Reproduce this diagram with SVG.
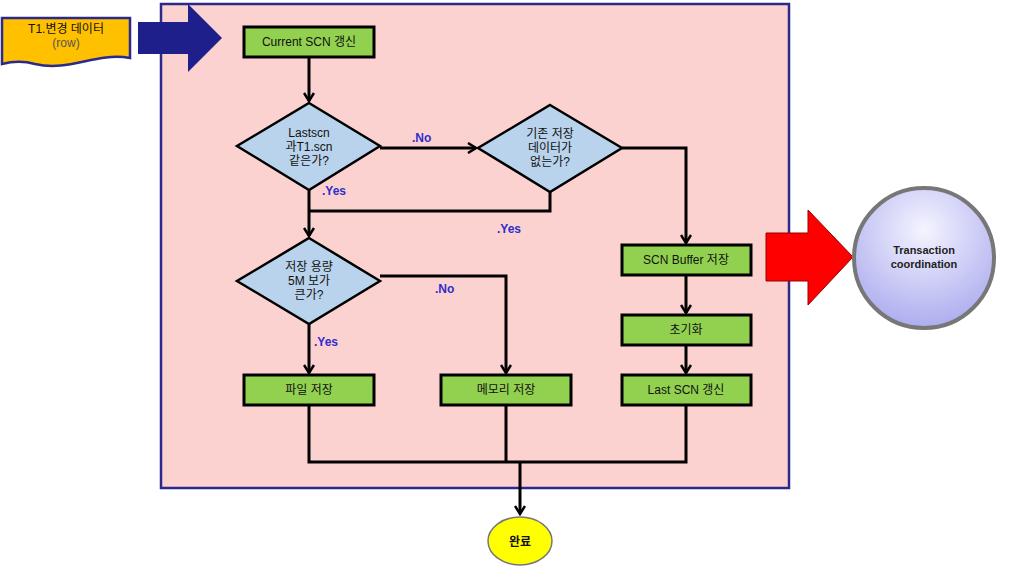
<svg xmlns="http://www.w3.org/2000/svg" width="1012" height="573" viewBox="0 0 1012 573">
<defs>
<style>
.t{font-family:"Liberation Sans","Noto Sans CJK KR",sans-serif;font-size:12px;fill:#111;text-anchor:middle}
.box{fill:#92D050;stroke:#000;stroke-width:3}
.dia{fill:#B9D3EC;stroke:#000;stroke-width:2.5}
.ln{fill:none;stroke:#000;stroke-width:3}
.lbl{font-family:"Liberation Sans",sans-serif;font-size:12px;font-weight:bold;fill:#2E2ECC}
</style>
<marker id="ah" viewBox="0 0 12 12" refX="10" refY="6" markerWidth="12" markerHeight="12" markerUnits="userSpaceOnUse" orient="auto">
<polyline points="2,1 10,6 2,11" fill="none" stroke="#000" stroke-width="2.5"/>
</marker>
<radialGradient id="cg" cx="0.5" cy="0.3" r="0.75">
<stop offset="0" stop-color="#F4F4FF"/>
<stop offset="1" stop-color="#A8A8EE"/>
</radialGradient>
</defs>
<rect id="container" x="161" y="4" width="628" height="484" fill="#FCD2D0" stroke="#2A2A8C" stroke-width="2.5"/>
<g id="input">
<path d="M2,18 H130 V58 C95,52 70,72 35,64 C20,60 10,62 2,64 Z" fill="#FFC000" stroke="#2A2A8C" stroke-width="2.5"/>
<text class="t" x="66" y="33" fill="#333">T1.변경 데이터</text>
<text class="t" x="66" y="47" style="fill:#555">(row)</text>
</g>
<g id="bluearrow">
<polygon points="138,22 188,22 188,4 222,38 188,72 188,54 138,54" fill="#1F1F8C"/>
</g>
<g id="connectors">
<line class="ln" x1="309" y1="57" x2="309" y2="101" marker-end="url(#ah)"/>
<line class="ln" x1="380" y1="148" x2="476" y2="148" marker-end="url(#ah)"/>
<polyline class="ln" points="622,148 686,148 686,243" marker-end="url(#ah)"/>
<line class="ln" x1="309" y1="190" x2="309" y2="236" marker-end="url(#ah)"/>
<polyline class="ln" points="550,192 550,211 309,211"/>
<polyline class="ln" points="380,276 506,276 506,373" marker-end="url(#ah)"/>
<line class="ln" x1="309" y1="324" x2="309" y2="373" marker-end="url(#ah)"/>
<line class="ln" x1="686" y1="275" x2="686" y2="313" marker-end="url(#ah)"/>
<line class="ln" x1="686" y1="345" x2="686" y2="373" marker-end="url(#ah)"/>
<polyline class="ln" points="309,405 309,462 686,462 686,405"/>
<line class="ln" x1="506" y1="405" x2="506" y2="462"/>
<line class="ln" x1="520" y1="462" x2="520" y2="514" marker-end="url(#ah)"/>
</g>
<g id="labels">
<text class="lbl" x="412" y="142">.No</text>
<text class="lbl" x="322" y="195">.Yes</text>
<text class="lbl" x="497" y="233">.Yes</text>
<text class="lbl" x="435" y="293">.No</text>
<text class="lbl" x="314" y="346">.Yes</text>
</g>
<g id="n_current"><rect class="box" x="244" y="27" width="130" height="30"/><text class="t" x="309" y="46">Current SCN 갱신</text></g>
<g id="d_last"><polygon class="dia" points="309,103 380,146 309,190 237,146"/>
<text class="t" x="309" y="137">Lastscn</text><text class="t" x="309" y="151">과T1.scn</text><text class="t" x="309" y="165">같은가?</text></g>
<g id="d_exist"><polygon class="dia" points="550,105 622,148 550,192 478,148"/>
<text class="t" x="550" y="138">기존 저장</text><text class="t" x="550" y="152">데이터가</text><text class="t" x="550" y="166">없는가?</text></g>
<g id="d_size"><polygon class="dia" points="309,238 380,281 309,324 237,281"/>
<text class="t" x="309" y="271">저장 용량</text><text class="t" x="309" y="285">5M 보가</text><text class="t" x="309" y="299">큰가?</text></g>
<g id="n_file"><rect class="box" x="244" y="375" width="130" height="30"/><text class="t" x="309" y="394">파일 저장</text></g>
<g id="n_mem"><rect class="box" x="441" y="375" width="130" height="30"/><text class="t" x="506" y="394">메모리 저장</text></g>
<g id="n_buf"><rect class="box" x="622" y="245" width="129" height="30"/><text class="t" x="686" y="264">SCN Buffer 저장</text></g>
<g id="n_init"><rect class="box" x="622" y="315" width="129" height="30"/><text class="t" x="686" y="334">초기화</text></g>
<g id="n_lastscn"><rect class="box" x="622" y="375" width="129" height="30"/><text class="t" x="686" y="394">Last SCN 갱신</text></g>
<g id="n_done"><ellipse cx="520" cy="541" rx="32" ry="24" fill="#FFFF00" stroke="#777" stroke-width="1.5"/><text class="t" x="520" y="546" style="font-weight:bold">완료</text></g>
<g id="redarrow"><polygon points="766,233 808,233 808,210 853,257 808,305 808,281 766,281" fill="#FF0000" stroke="#900" stroke-width="1"/></g>
<g id="n_tx"><circle cx="924" cy="258" r="70" fill="url(#cg)" stroke="#777" stroke-width="4"/>
<text class="t" x="924" y="254" style="font-size:11px;font-weight:bold;fill:#222">Transaction</text>
<text class="t" x="924" y="268" style="font-size:11px;font-weight:bold;fill:#222">coordination</text></g>
</svg>
